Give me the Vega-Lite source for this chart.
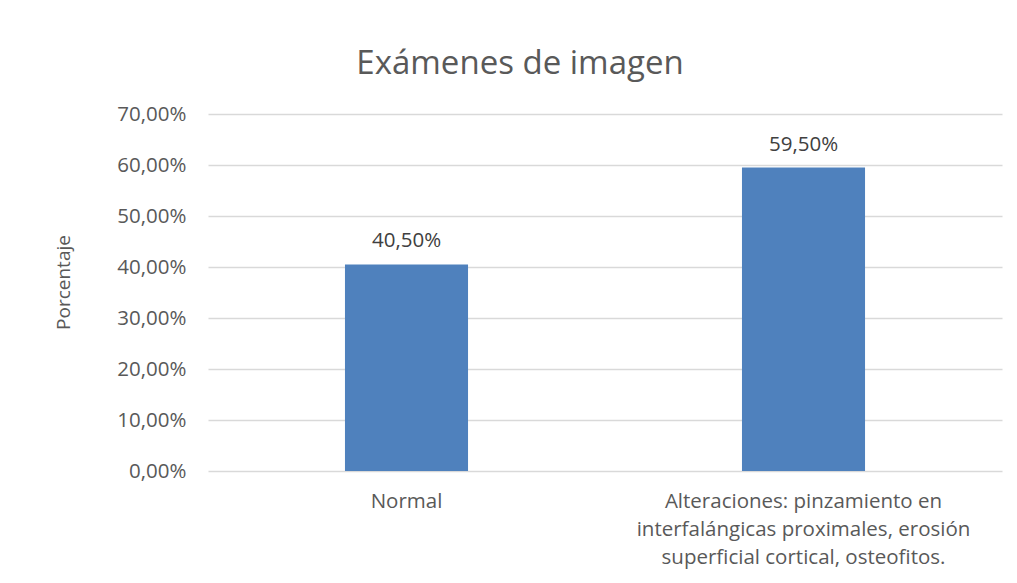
{
  "$schema": "https://vega.github.io/schema/vega-lite/v6.json",
  "autosize": "none",
  "width": 794,
  "height": 357,
  "padding": {"left": 208, "top": 114, "right": 15, "bottom": 113},
  "background": "white",
  "config": {
    "locale": {"number": {"decimal": ",", "thousands": ".", "grouping": [3], "currency": ["", " €"]}},
    "view": {"stroke": null},
    "font": "Open Sans"
  },
  "title": {
    "text": "Exámenes de imagen",
    "fontSize": 33,
    "fontWeight": "normal",
    "color": "#595959",
    "font": "Open Sans",
    "anchor": "middle",
    "dx": -85,
    "offset": 23
  },
  "data": {
    "values": [
      {"categoria": "Normal", "porcentaje": 0.405},
      {"categoria": "Alteraciones: pinzamiento en interfalángicas proximales, erosión superficial cortical, osteofitos.", "porcentaje": 0.595}
    ]
  },
  "encoding": {
    "x": {
      "field": "categoria",
      "type": "nominal",
      "sort": null,
      "scale": {"paddingInner": 0, "paddingOuter": 0},
      "axis": {
        "title": null,
        "labelAngle": 0,
        "domain": false,
        "ticks": false,
        "labelFontSize": 20.5,
        "labelColor": "#595959",
        "labelPadding": 20,
        "labelLimit": 0,
        "labelLineHeight": 28,
        "labelExpr": "datum.value == 'Normal' ? 'Normal' : ['Alteraciones: pinzamiento en', 'interfalángicas proximales, erosión', 'superficial cortical, osteofitos.']"
      }
    },
    "y": {
      "field": "porcentaje",
      "type": "quantitative",
      "scale": {"domain": [0, 0.7], "nice": false},
      "axis": {
        "title": "Porcentaje",
        "titleFontSize": 19,
        "titleFontWeight": "normal",
        "titleColor": "#595959",
        "titlePadding": 43,
        "titleY": 168,
        "format": ".2%",
        "values": [0, 0.1, 0.2, 0.3, 0.4, 0.5, 0.6, 0.7],
        "domain": false,
        "ticks": false,
        "labelFontSize": 20.5,
        "labelColor": "#595959",
        "labelPadding": 22,
        "gridColor": "#D9D9D9",
        "gridWidth": 1.3
      }
    }
  },
  "layer": [
    {
      "mark": {"type": "bar", "color": "#4F81BD", "width": {"band": 0.31}}
    },
    {
      "mark": {"type": "text", "dy": -23, "fontSize": 20.5, "color": "#404040", "baseline": "middle"},
      "encoding": {
        "text": {"field": "porcentaje", "type": "quantitative", "format": ".2%"}
      }
    }
  ]
}
